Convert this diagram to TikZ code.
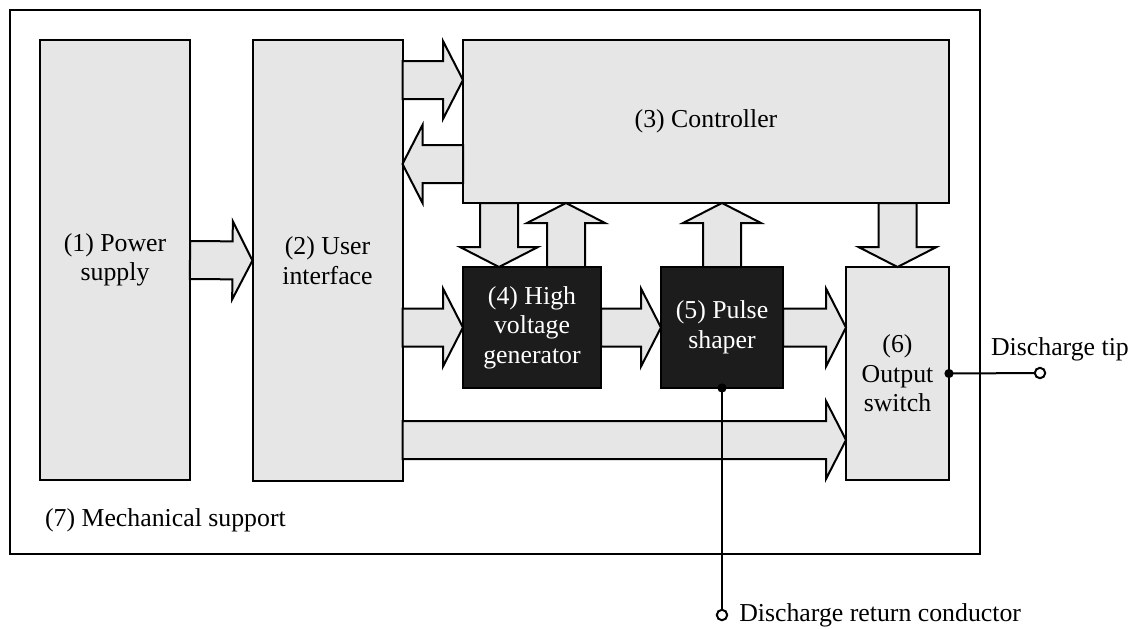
\documentclass[tikz,border=0pt]{standalone}
\usepackage{fontspec}
\setmainfont{Liberation Serif}
\usepackage{xcolor}
\usetikzlibrary{calc,positioning}
\definecolor{boxgray}{HTML}{E6E6E6}
\definecolor{boxdark}{HTML}{1C1C1C}
\newcommand{\shafthw}{9.5pt}
\newcommand{\headhw}{19.5pt}
\newcommand{\headlen}{10pt}

\begin{document}
\begin{tikzpicture}[x=0.5pt,y=-0.5pt,
    txt/.style={font=\fontsize{12.9}{14.8}\selectfont},
    block/.style={txt,draw,line width=1pt,fill=boxgray,align=center,inner sep=0pt,outer sep=0pt},
    darkblock/.style={block,fill=boxdark,text=white},
    terminal/.style={draw,circle,line width=1pt,fill=white,inner sep=0pt,minimum size=5.2pt},
    fatarrow/.style={draw,line width=1pt,fill=boxgray,miter limit=10,
      to path={let \p1=($(\tikztotarget)!\headlen!(\tikztostart)$) in
        ($(\tikztostart)!\shafthw!90:(\tikztotarget)$) --
        ($(\p1)!\shafthw!90:(\tikztotarget)$) --
        ($(\p1)!\headhw!90:(\tikztotarget)$) --
        (\tikztotarget) --
        ($(\p1)!\headhw!-90:(\tikztotarget)$) --
        ($(\p1)!\shafthw!-90:(\tikztotarget)$) --
        ($(\tikztostart)!\shafthw!-90:(\tikztotarget)$) -- cycle}}]
    \useasboundingbox (0,0) rectangle (1131,628);
    \node[draw,line width=1pt,minimum width=485pt,minimum height=272pt,inner sep=0pt] (frame) at (495,282) {};
    \node[txt,anchor=west] (mech) at (38,520) {(7) Mechanical support};
    \node[block,minimum width=75pt,minimum height=220pt] (pwr) at (115,260) {(1) Power\\supply};
    \node[block,minimum width=75pt,minimum height=220.5pt] (ui) at (327.5,260.5) {(2) User\\interface};
    \node[block,minimum width=243pt,minimum height=81.5pt] (ctl) at (706,121.5) {(3) Controller};
    \node[darkblock,minimum width=69pt,minimum height=60.5pt] (hv) at (532,327.5) {(4) High\\voltage\\generator};
    \node[darkblock,minimum width=61pt,minimum height=60.5pt] (pls) at (722,327.5) {(5) Pulse\\shaper};
    \node[block,minimum width=51.5pt,minimum height=106.5pt] (sw) at (897.5,373.5) {(6)\\Output\\switch};
    \draw[fatarrow] (pwr.east) to (ui.west);
    \draw[fatarrow] (ui.east |- 0,80) to (ctl.west |- 0,80);
    \draw[fatarrow] (ctl.west |- 0,164) to (ui.east |- 0,164);
    \draw[fatarrow] (ui.east |- hv.west) to (hv.west);
    \draw[fatarrow] (ui.east |- 0,440) to (sw.west |- 0,440);
    \draw[fatarrow] (ctl.south -| 499,0) to (hv.north -| 499,0);
    \draw[fatarrow] (hv.north -| 566,0) to (ctl.south -| 566,0);
    \draw[fatarrow] (pls.north) to (ctl.south -| pls.north);
    \draw[fatarrow] (ctl.south -| sw.north) to (sw.north);
    \draw[fatarrow] (hv.east) to (pls.west);
    \draw[fatarrow] (pls.east) to (sw.west |- pls.east);
    \node[terminal] (tip) at (1040,373) {};
    \node[terminal] (ret) at (722,615) {};
    \draw[line width=1pt] (sw.east) -- (tip);
    \draw[line width=1pt] (pls.south) -- (ret);
    \fill (sw.east) circle (2.3pt);
    \fill (pls.south) circle (2.3pt);
    \node[txt,anchor=west] (tiplbl) at (984,349) {Discharge tip};
    \node[txt,right=2pt of ret] (retlbl) {Discharge return conductor};
\end{tikzpicture}
\end{document}
